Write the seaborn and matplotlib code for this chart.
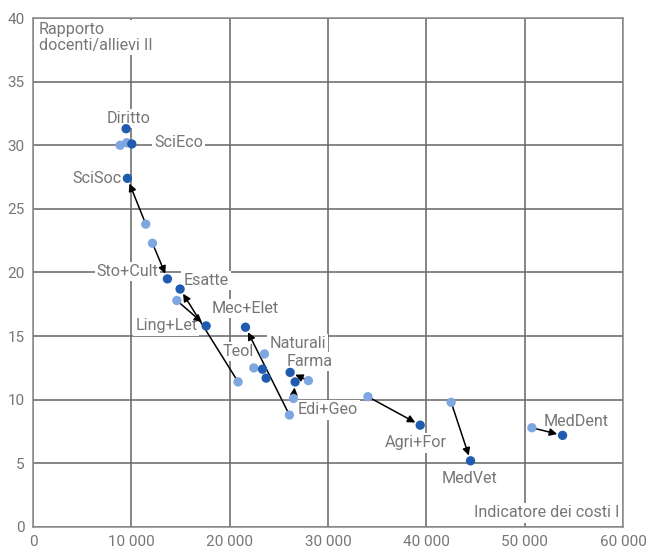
import numpy as np
import pandas as pd
import matplotlib
matplotlib.use("Agg")
import matplotlib.pyplot as plt
import seaborn as sns
from matplotlib.ticker import FuncFormatter

# faculty groups: initial (light) and final (dark) position
names = ["Diritto", "SciEco", "SciSoc", "Sto+Cult", "Esatte", "Ling+Let", "Mec+Elet",
         "Teol", "Naturali", "Farma", "Edi+Geo", "Agri+For", "MedVet", "MedDent"]
cost_start = [9530, 8850, 11460, 12140, 20850, 14620, 26070,
              22450, 23530, 28000, 26480, 34050, 42520, 50730]
ratio_start = [30.2, 30.0, 23.8, 22.3, 11.4, 17.8, 8.8,
               12.5, 13.6, 11.5, 10.1, 10.24, 9.8, 7.8]
cost_end = [9460, 10040, 9590, 13660, 14950, 17600, 21600,
            23700, 23330, 26140, 26650, 39370, 44490, 53850]
ratio_end = [31.3, 30.1, 27.4, 19.5, 18.7, 15.8, 15.7,
             11.7, 12.4, 12.15, 11.4, 8.0, 5.2, 7.2]

# label placement (data coords) and alignment
label_pos = {
    "Diritto": (9700, 32.1, "center"), "SciEco": (12300, 30.2, "left"),
    "SciSoc": (9000, 27.4, "right"), "Sto+Cult": (9600, 20.1, "center"),
    "Esatte": (15300, 19.4, "left"), "Ling+Let": (16700, 15.8, "right"),
    "Mec+Elet": (21600, 17.2, "center"), "Teol": (22400, 13.8, "right"),
    "Naturali": (26900, 14.45, "center"), "Farma": (28100, 13.0, "center"),
    "Edi+Geo": (30000, 9.2, "center"), "Agri+For": (38900, 6.6, "center"),
    "MedVet": (44400, 3.8, "center"), "MedDent": (55200, 8.3, "center"),
}

df = pd.DataFrame({
    "cost": cost_start + cost_end,
    "ratio": ratio_start + ratio_end,
    "fase": ["I"] * len(names) + ["II"] * len(names),
})

light = "#7ea6df"
dark = "#1f5bb0"
grey = "#767676"

sns.set_style("white")
plt.rcParams["font.family"] = ["Roboto", "DejaVu Sans"]

fig = plt.figure(figsize=(6.49, 5.51), dpi=100)
ax = fig.add_axes([0.051, 0.0436, 0.909, 0.9237])

ax.set_xlim(0, 60000)
ax.set_ylim(0, 40)
ax.set_xticks(np.arange(0, 60001, 10000))
ax.set_yticks(np.arange(0, 41, 5))
ax.xaxis.set_major_formatter(FuncFormatter(lambda v, p: f"{int(v):,}".replace(",", " ")))
ax.grid(True, color="#6a6a6a", lw=1.15, zorder=0)
ax.set_axisbelow(True)
for s in ax.spines.values():
    s.set_color("#8a8a8a")
    s.set_linewidth(1.1)
ax.tick_params(axis="both", length=0, labelsize=11, labelcolor=grey, pad=6)

fig.canvas.draw()
for i, n in enumerate(names):
    p0 = ax.transData.transform((cost_start[i], ratio_start[i]))
    p1 = ax.transData.transform((cost_end[i], ratio_end[i]))
    if np.hypot(*(p1 - p0)) > 16.5:
        ax.annotate("", xy=(cost_end[i], ratio_end[i]), xytext=(cost_start[i], ratio_start[i]),
                    arrowprops=dict(arrowstyle="-|>", color="black", lw=1.1,
                                    shrinkA=3, shrinkB=4, mutation_scale=11),
                    zorder=4)

sns.scatterplot(data=df, x="cost", y="ratio", hue="fase", palette={"I": light, "II": dark},
                s=45, edgecolor="none", legend=False, ax=ax, zorder=5)

box = dict(facecolor="white", edgecolor="none", pad=1.5)
for n in names:
    lx, ly, ha = label_pos[n]
    ax.text(lx, ly, n, ha=ha, va="center", fontsize=11.6, color=grey, bbox=box, zorder=3)

ax.text(600, 39.7, "Rapporto\ndocenti/allievi II", ha="left", va="top", fontsize=11.6,
        color=grey, bbox=box, zorder=3, linespacing=1.1)
ax.text(59600, 1.1, "Indicatore dei costi I", ha="right", va="center", fontsize=11.6,
        color=grey, bbox=box, zorder=3)
ax.set_xlabel("")
ax.set_ylabel("")

fig.savefig("out.png", dpi=100)
